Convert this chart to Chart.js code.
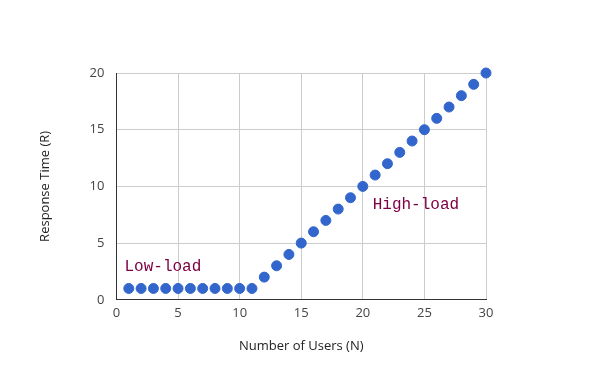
<!DOCTYPE html>
<html lang="en">
<head>
<meta charset="UTF-8" />
<title>Response Time vs Users</title>
<script src="https://cdn.jsdelivr.net/npm/chart.js"></script>
<style>
  html, body { margin: 0; padding: 0; background: #fff; }
  #wrap { width: 600px; height: 371px; }
</style>
</head>
<body>
<div id="wrap"><canvas id="myChart"></canvas></div>
<script>
const users = [1,2,3,4,5,6,7,8,9,10,11,12,13,14,15,16,17,18,19,20,21,22,23,24,25,26,27,28,29,30];
const responseTime = [1,1,1,1,1,1,1,1,1,1,1,2,3,4,5,6,7,8,9,10,11,12,13,14,15,16,17,18,19,20];
const noteLabels = ["Low-load", "High-load"];
const noteX = [0.65, 20.8];
const noteY = [2.9, 8.4];

const notes = {
  id: "notes",
  afterDatasetsDraw(chart) {
    const c = chart.ctx;
    const xs = chart.scales.x, ys = chart.scales.y;
    c.save();
    c.font = "16px 'Liberation Mono', 'Courier New', monospace";
    c.fillStyle = "#800046";
    c.textBaseline = "middle";
    noteLabels.forEach((t, i) => {
      c.fillText(t, xs.getPixelForValue(noteX[i]), ys.getPixelForValue(noteY[i]));
    });
    c.restore();
  }
};

const tickFont = { family: "'Open Sans', sans-serif", size: 13 };

new Chart(document.getElementById("myChart"), {
  type: "scatter",
  data: {
    datasets: [{
      data: users.map((u, i) => ({ x: u, y: responseTime[i] })),
      backgroundColor: "#3366cc",
      borderColor: "#3366cc",
      pointRadius: 5,
      pointHoverRadius: 5,
      clip: false
    }]
  },
  options: {
    responsive: true,
    maintainAspectRatio: false,
    animation: false,
    layout: { padding: { left: 33, right: 114, top: 73, bottom: 13 } },
    plugins: { legend: { display: false }, tooltip: { enabled: false } },
    scales: {
      x: {
        type: "linear",
        min: 0, max: 30,
        ticks: { stepSize: 5, color: "#444", font: tickFont, padding: 6 },
        grid: { color: "#cccccc", drawTicks: false },
        border: { color: "#333", width: 1 },
        title: { display: true, text: "Number of Users (N)", color: "#222", font: tickFont, padding: { top: 11 } }
      },
      y: {
        min: 0, max: 20,
        ticks: { stepSize: 5, color: "#444", font: tickFont, padding: 12 },
        grid: { color: "#cccccc", drawTicks: false },
        border: { color: "#333", width: 1 },
        title: { display: true, text: "Response Time (R)", color: "#222", font: tickFont, padding: { bottom: 25 } }
      }
    }
  },
  plugins: [notes]
});
</script>
</body>
</html>
